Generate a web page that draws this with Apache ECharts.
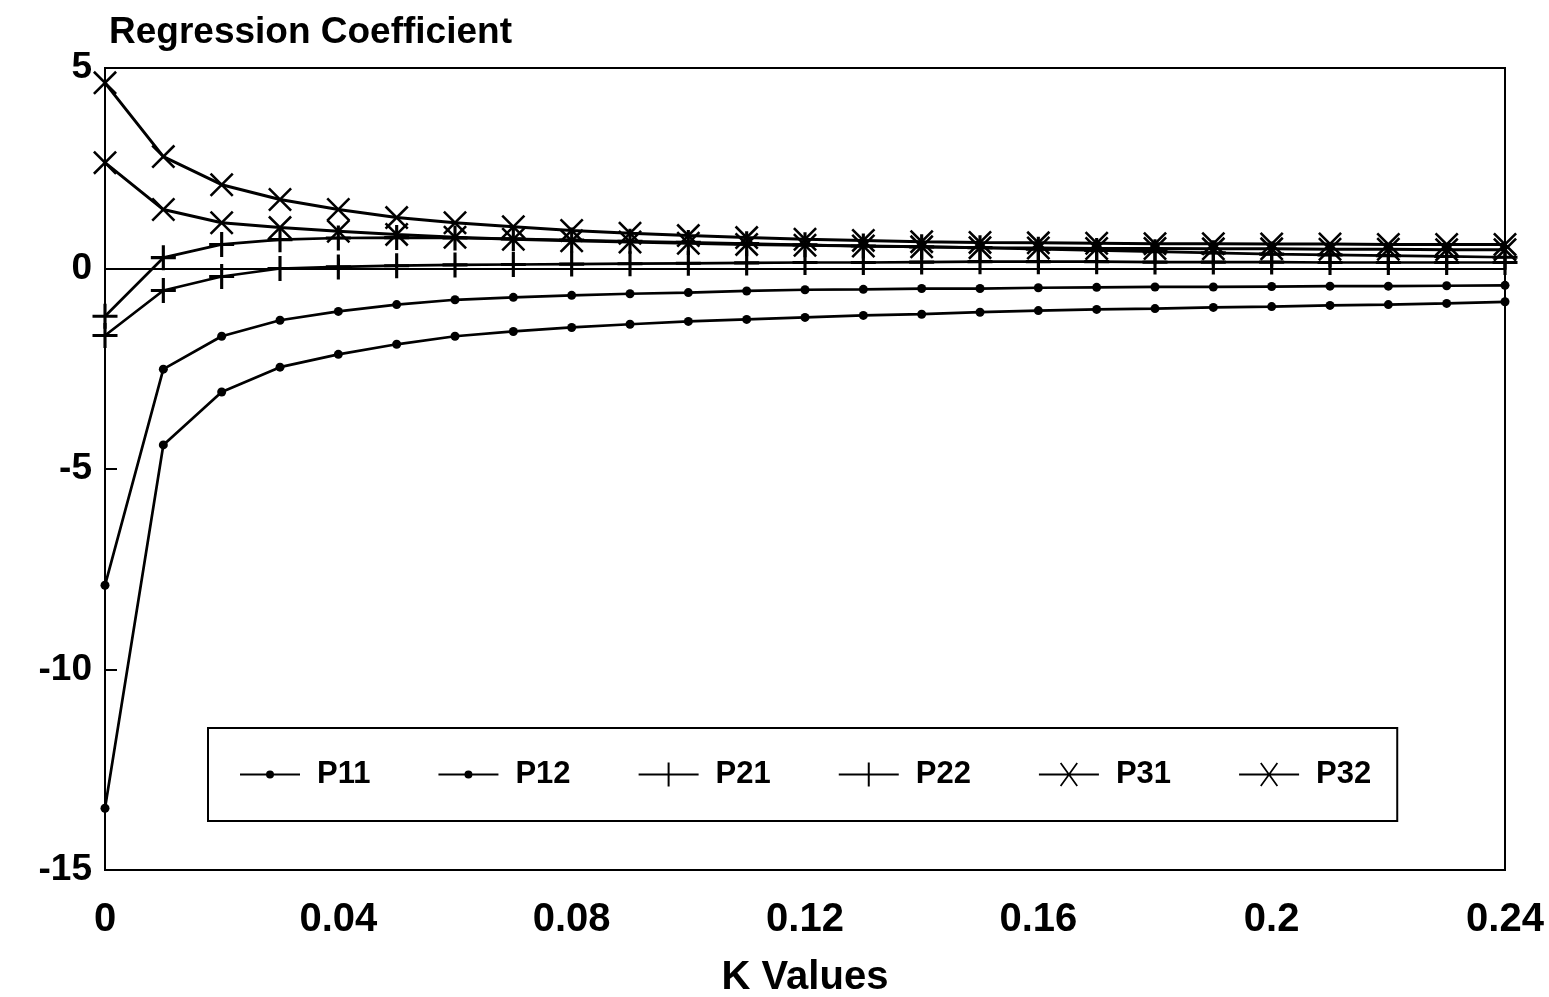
<!DOCTYPE html>
<html>
<head>
<meta charset="utf-8">
<script src="https://cdn.jsdelivr.net/npm/echarts@6/dist/echarts.min.js"></script>
<style>
html,body{margin:0;padding:0;background:#fff;}
#chart{width:1549px;height:997px;}
</style>
</head>
<body>
<div id="chart"></div>
<script>
// ---- data ----
const kValues = [0, 0.01, 0.02, 0.03, 0.04, 0.05, 0.06, 0.07, 0.08, 0.09, 0.10, 0.11, 0.12,
                 0.13, 0.14, 0.15, 0.16, 0.17, 0.18, 0.19, 0.20, 0.21, 0.22, 0.23, 0.24];
const seriesNames = ['P11', 'P12', 'P21', 'P22', 'P31', 'P32'];
const p11 = [-7.9, -2.51, -1.69, -1.29, -1.07, -0.90, -0.78, -0.72, -0.67, -0.63, -0.60, -0.56, -0.53,
             -0.52, -0.50, -0.50, -0.48, -0.47, -0.46, -0.46, -0.45, -0.44, -0.44, -0.43, -0.42];
const p12 = [-13.46, -4.40, -3.08, -2.46, -2.14, -1.89, -1.69, -1.57, -1.47, -1.39, -1.32, -1.27, -1.22,
             -1.17, -1.14, -1.09, -1.05, -1.02, -1.00, -0.97, -0.95, -0.92, -0.90, -0.87, -0.83];
const p21 = [-1.19, 0.27, 0.60, 0.72, 0.76, 0.77, 0.76, 0.74, 0.71, 0.68, 0.65, 0.62, 0.59,
             0.56, 0.54, 0.52, 0.48, 0.45, 0.42, 0.39, 0.36, 0.34, 0.32, 0.30, 0.28];
const p22 = [-1.67, -0.55, -0.20, 0.00, 0.04, 0.07, 0.09, 0.10, 0.11, 0.12, 0.13, 0.14, 0.15,
             0.15, 0.16, 0.17, 0.17, 0.17, 0.16, 0.16, 0.16, 0.15, 0.15, 0.15, 0.15];
const p31 = [4.63, 2.79, 2.09, 1.72, 1.47, 1.27, 1.14, 1.04, 0.95, 0.88, 0.82, 0.77, 0.73,
             0.70, 0.67, 0.65, 0.64, 0.63, 0.62, 0.62, 0.61, 0.61, 0.60, 0.60, 0.60];
const p32 = [2.64, 1.47, 1.14, 1.02, 0.93, 0.85, 0.78, 0.73, 0.69, 0.66, 0.63, 0.60, 0.58,
             0.56, 0.54, 0.52, 0.51, 0.50, 0.50, 0.49, 0.49, 0.48, 0.48, 0.47, 0.47];
const xTicks = [0, 0.04, 0.08, 0.12, 0.16, 0.2, 0.24];
const yTicks = [-15, -10, -5, 0, 5];
const yTitle = 'Regression Coefficient';
const xTitle = 'K Values';

// ---- styling ----
const FONT = '"Liberation Sans", Arial, Helvetica, sans-serif';
const PLUS = 'path://M-1.5,-12 L1.5,-12 L1.5,12 L-1.5,12 Z M-12,-1.5 L12,-1.5 L12,1.5 L-12,1.5 Z';
const CROSS = 'path://M-10.1,-11.9 L11.9,10.1 L10.1,11.9 L-11.9,-10.1 Z M10.1,-11.9 L11.9,-10.1 L-10.1,11.9 L-11.9,10.1 Z';
const ICON_DOT = 'path://M0,11 L60,11 L60,13 L0,13 Z M26,12 A4,4 0 1,1 34,12 A4,4 0 1,1 26,12 Z';
const ICON_PLUS = 'path://M0,11 L60,11 L60,13 L0,13 Z M29,0 L31,0 L31,24 L29,24 Z';
const ICON_CROSS = 'path://M0,11 L60,11 L60,13 L0,13 Z M21,1 L22.4,0 L39,23 L37.6,24 Z M37.6,0 L39,1 L22.4,24 L21,23 Z';

const values = [p11, p12, p21, p22, p31, p32];
const symbols = ['circle', 'circle', PLUS, PLUS, CROSS, CROSS];
const symbolSizes = [9, 9, 25, 25, 24, 24];
const icons = [ICON_DOT, ICON_DOT, ICON_PLUS, ICON_PLUS, ICON_CROSS, ICON_CROSS];

const series = seriesNames.map((name, si) => {
  const s = {
    name: name,
    type: 'line',
    data: kValues.map((k, i) => [k, values[si][i]]),
    symbol: symbols[si],
    symbolSize: symbolSizes[si],
    showSymbol: true,
    showAllSymbol: true,
    lineStyle: { color: '#000', width: si >= 4 ? 3 : 2.7 },
    itemStyle: { color: '#000', borderWidth: 0 },
    emphasis: { disabled: true },
    animation: false
  };
  if (si === 3) {
    s.markLine = {
      silent: true,
      symbol: 'none',
      label: { show: false },
      lineStyle: { color: '#000', width: 1.6, type: 'solid' },
      data: [{ yAxis: 0 }]
    };
  }
  return s;
});

const chart = echarts.init(document.getElementById('chart'), null, { renderer: 'canvas' });
chart.setOption({
  backgroundColor: '#fff',
  animation: false,
  textStyle: { fontFamily: FONT },
  title: {
    text: yTitle,
    left: 104,
    top: 9,
    textStyle: { fontFamily: FONT, fontSize: 37, fontWeight: 'bold', color: '#000' }
  },
  grid: {
    left: 105, right: 44, top: 68, bottom: 127,
    containLabel: false,
    outerBoundsMode: 'none',
    show: true, borderColor: '#000', borderWidth: 2, backgroundColor: 'transparent'
  },
  legend: {
    left: 208,
    top: 728,
    padding: [31, 26, 31, 32],
    borderColor: '#000',
    borderWidth: 2,
    itemWidth: 60,
    itemHeight: 24,
    itemGap: 68,
    data: seriesNames.map((n, i) => ({ name: n, icon: icons[i] })),
    textStyle: { fontFamily: FONT, fontSize: 31, fontWeight: 'bold', color: '#000', padding: [0, 0, 0, 12] }
  },
  xAxis: {
    type: 'value',
    min: 0, max: 0.24, interval: 0.04,
    name: xTitle,
    nameLocation: 'middle',
    nameGap: 88,
    nameTextStyle: { fontFamily: FONT, fontSize: 40, fontWeight: 'bold', color: '#000' },
    axisLine: { show: true, lineStyle: { color: '#000', width: 2 } },
    axisTick: { show: true, inside: true, length: 10, lineStyle: { color: '#000', width: 2 } },
    axisLabel: {
      margin: 30, fontFamily: FONT, fontSize: 40, fontWeight: 'bold', color: '#000',
      formatter: v => {
        const t = xTicks.find(x => Math.abs(x - v) < 1e-9);
        return t === undefined ? '' : String(t);
      }
    },
    splitLine: { show: false }
  },
  yAxis: {
    type: 'value',
    min: -15, max: 5, interval: 5,
    axisLine: { show: true, lineStyle: { color: '#000', width: 2 } },
    axisTick: { show: true, inside: true, length: 12, lineStyle: { color: '#000', width: 2 } },
    axisLabel: {
      margin: 13, fontFamily: FONT, fontSize: 37, fontWeight: 'bold', color: '#000',
      formatter: v => {
        const t = yTicks.find(y => Math.abs(y - v) < 1e-9);
        return t === undefined ? '' : String(t);
      }
    },
    splitLine: { show: false }
  },
  series: series
});
</script>
</body>
</html>
